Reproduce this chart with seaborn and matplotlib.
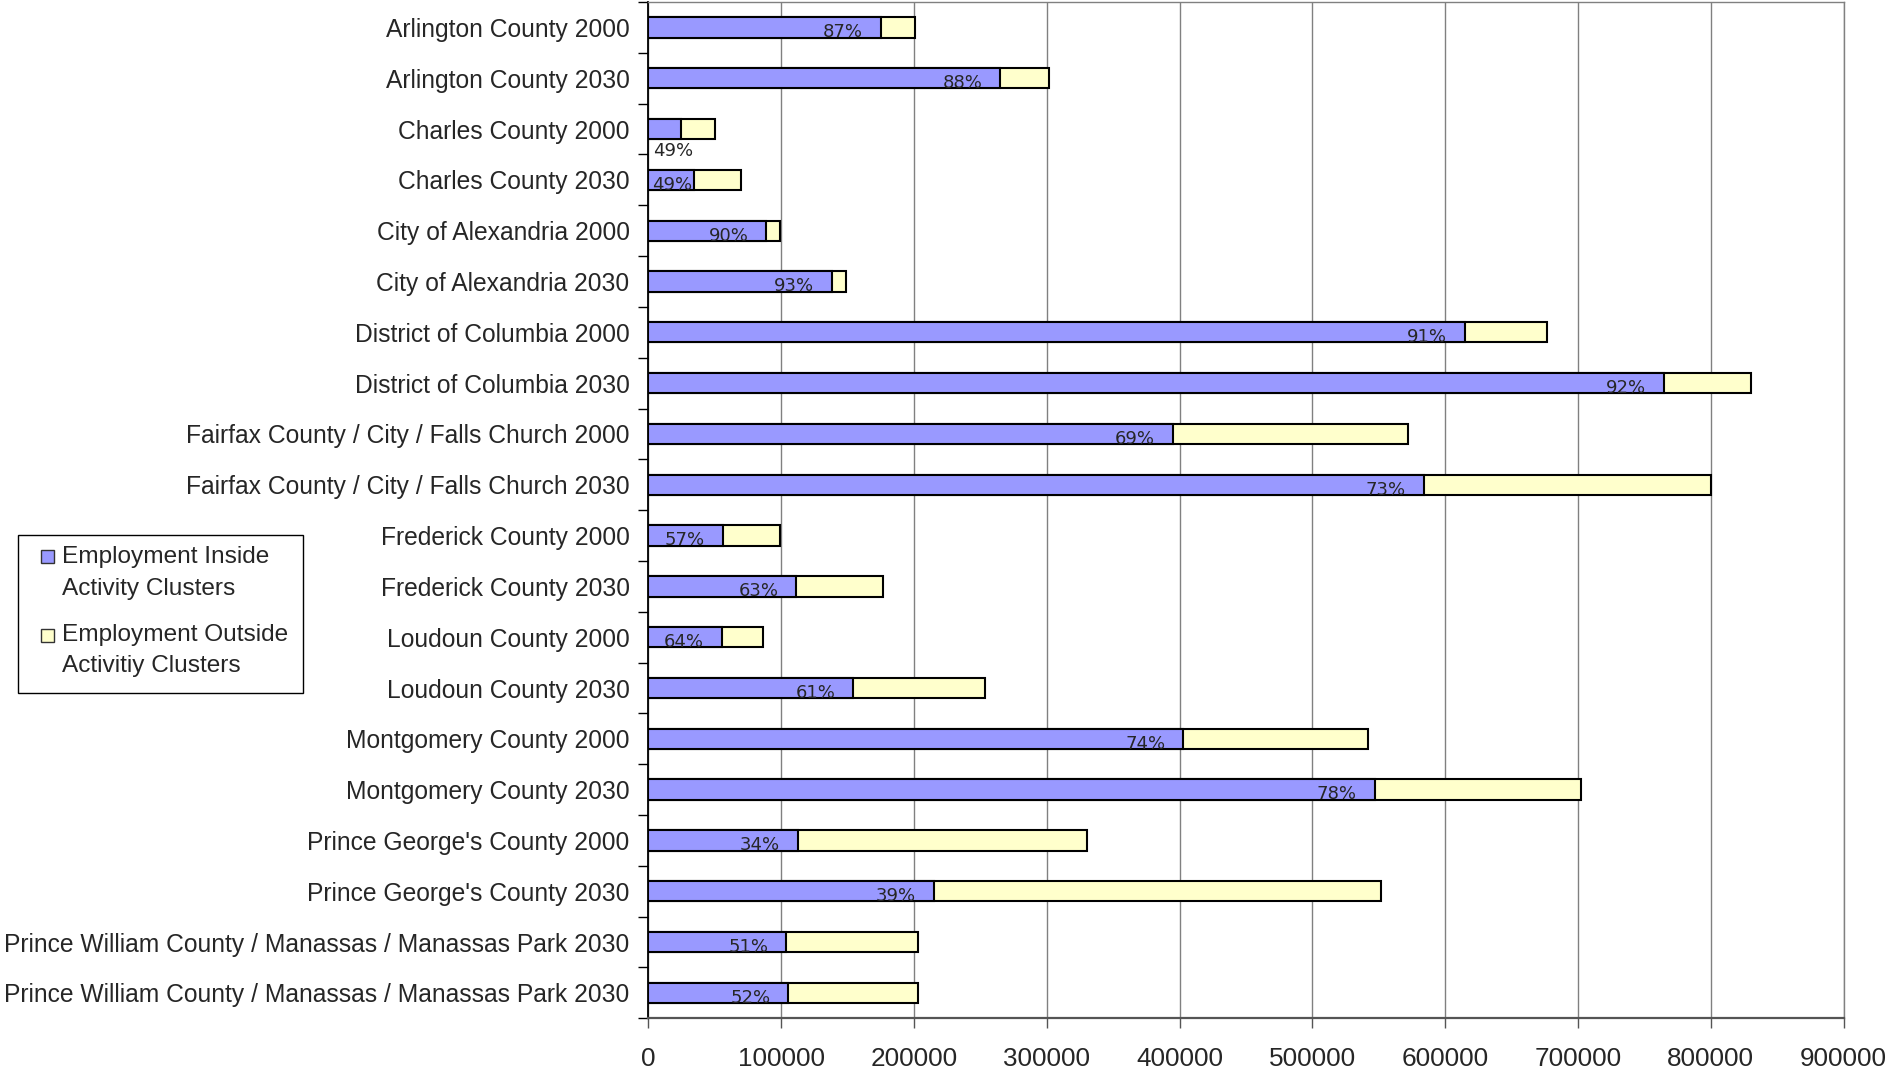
import matplotlib
matplotlib.use("Agg")
import matplotlib.pyplot as plt
from matplotlib.patches import Rectangle
import numpy as np
import pandas as pd
import seaborn as sns

# Employment by jurisdiction, inside vs. outside activity clusters
categories = [
    "Arlington County 2000",
    "Arlington County 2030",
    "Charles County 2000",
    "Charles County 2030",
    "City of Alexandria 2000",
    "City of Alexandria 2030",
    "District of Columbia 2000",
    "District of Columbia 2030",
    "Fairfax County / City / Falls Church 2000",
    "Fairfax County / City / Falls Church 2030",
    "Frederick County 2000",
    "Frederick County 2030",
    "Loudoun County 2000",
    "Loudoun County 2030",
    "Montgomery County 2000",
    "Montgomery County 2030",
    "Prince George's County 2000",
    "Prince George's County 2030",
    "Prince William County / Manassas / Manassas Park 2030",
    "Prince William County / Manassas / Manassas Park 2030",
]
inside = [175000, 265000, 24500, 34300, 89000, 138000, 615000, 765000,
          395000, 584000, 56000, 111500, 55500, 154500, 403000, 547000,
          113000, 215000, 104000, 105500]
outside = [26000, 36500, 25500, 35700, 10000, 10500, 62000, 65000,
           177000, 216000, 43000, 65500, 31000, 99000, 139000, 155000,
           217000, 337000, 99000, 97500]
x_ticks = [0, 100000, 200000, 300000, 400000, 500000, 600000, 700000,
           800000, 900000]
legend_labels = [["Employment Inside", "Activity Clusters"],
                 ["Employment Outside", "Activitiy Clusters"]]

BLUE = "#9999FF"
YELLOW = "#FFFFCC"
W, H = 1893, 1081

sns.set_theme(style="white")
plt.rcParams["font.family"] = ["Liberation Sans", "DejaVu Sans"]

n = len(categories)
total = [a + b for a, b in zip(inside, outside)]
df = pd.DataFrame({"slot": list(range(n)), "inside": inside, "total": total})

fig = plt.figure(figsize=(W / 100, H / 100), dpi=100)
ax = fig.add_axes([648.3 / W, 1 - 1018.3 / H, (1843.5 - 648.3) / W, (1018.3 - 2) / H])

bar_kw = dict(orient="h", width=0.4, edgecolor="black", linewidth=1.5,
              errorbar=None, saturation=1, ax=ax)
sns.barplot(data=df, x="total", y="slot", color=YELLOW, **bar_kw)
sns.barplot(data=df, x="inside", y="slot", color=BLUE, **bar_kw)

ax.set_ylim(n - 0.5, -0.5)
ax.set_yticks(range(n))
ax.set_yticklabels(categories, fontsize=17.7)
ax.set_yticks(np.arange(-0.5, n, 1.0), minor=True)
ax.tick_params(axis="y", which="major", length=0, pad=13.5)
ax.tick_params(axis="y", which="minor", left=True, length=7, width=1,
               color="black", direction="out")

ax.set_xlim(0, 900000)
ax.set_xticks(x_ticks)
ax.set_xticklabels([str(v) for v in x_ticks], fontsize=18.8)
ax.tick_params(axis="x", which="major", bottom=True, length=7, width=1,
               color="#555555", direction="out", pad=14)
ax.set_xlabel("")
ax.set_ylabel("")

ax.xaxis.grid(True, color="#808080", linewidth=1)
ax.yaxis.grid(False)
ax.set_axisbelow(True)

for side in ("top", "right"):
    ax.spines[side].set_color("#808080")
    ax.spines[side].set_linewidth(1)
ax.spines["left"].set_color("black")
ax.spines["left"].set_linewidth(1.3)
ax.spines["bottom"].set_color("#555555")
ax.spines["bottom"].set_linewidth(1.6)

# Share of employment inside clusters, printed near the end of the blue segment
fig.canvas.draw()
renderer = fig.canvas.get_renderer()
px_per_unit = ax.get_window_extent().width / 900000
for i, (a, t) in enumerate(zip(inside, total)):
    pct = f"{round(100 * a / t)}%"
    if a < 30000:
        ax.annotate(pct, xy=(0, i + 0.2), xytext=(3.5, -2), textcoords="offset points",
                    ha="left", va="top", fontsize=13, family="DejaVu Sans")
        continue
    txt = ax.annotate(pct, xy=(a, i), xytext=(-13, -3.5), textcoords="offset points",
                      ha="right", va="center", fontsize=13, family="DejaVu Sans")
    width_px = txt.get_window_extent(renderer).width
    bar_px = a * px_per_unit
    if bar_px - 18 - width_px < 3:
        txt.remove()
        ax.annotate(pct, xy=(0, i), xytext=(2.5, -3.5), textcoords="offset points",
                    ha="left", va="center", fontsize=13, family="DejaVu Sans")

# Legend box on the left
tf = fig.transFigure
fig.patches.append(Rectangle((18 / W, 1 - 693 / H), 285 / W, 158 / H,
                             transform=tf, facecolor="white", edgecolor="black",
                             linewidth=1, zorder=5))
for (line1, line2), color, y1, y2 in zip(legend_labels, [BLUE, YELLOW],
                                         [556.6, 635], [589, 666.4]):
    fig.patches.append(Rectangle((41 / W, 1 - (y1 + 6.5) / H), 13 / W, 13 / H,
                                 transform=tf, facecolor=color, edgecolor="#333333",
                                 linewidth=1, zorder=6))
    fig.text(61.5 / W, 1 - y1 / H, line1, va="center", ha="left", fontsize=17.6, zorder=6)
    fig.text(61.5 / W, 1 - y2 / H, line2, va="center", ha="left", fontsize=17.6, zorder=6)

fig.savefig("out.png", dpi=100, facecolor="white")
